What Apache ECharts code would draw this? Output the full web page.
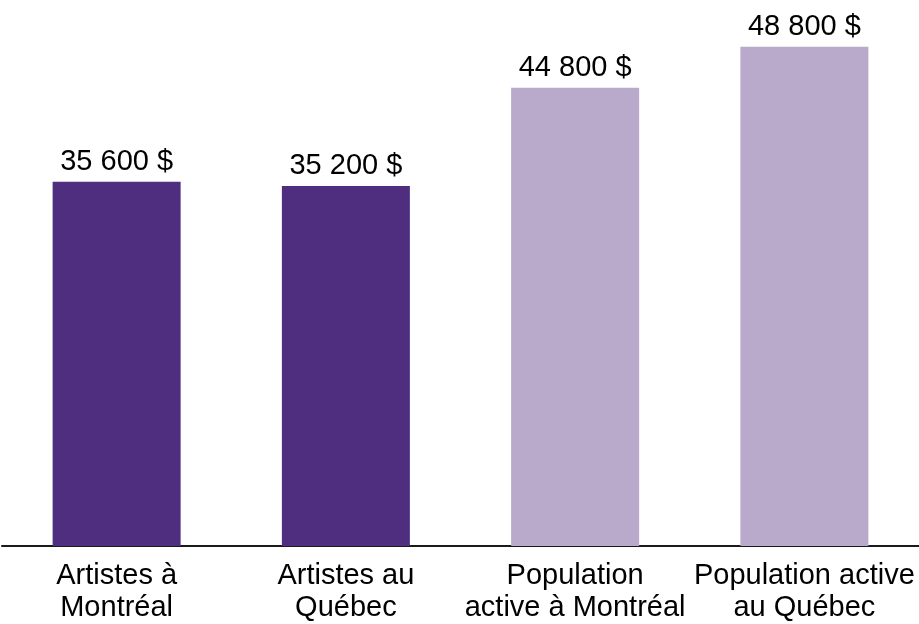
<!DOCTYPE html>
<html>
<head>
<meta charset="utf-8">
<script src="https://cdn.jsdelivr.net/npm/echarts@6/dist/echarts.min.js"></script>
<style>
html, body { margin: 0; padding: 0; background: #fff; }
#chart { width: 919px; height: 624px; }
</style>
</head>
<body>
<div id="chart"></div>
<script>
// catégories (axe x)
const categories = ['Artistes à\nMontréal', 'Artistes au\nQuébec', 'Population\nactive à Montréal', 'Population active\nau Québec'];
// revenu médian
const values = [35600, 35200, 44800, 48800];
// couleur de chaque barre
const barColors = ['#4f2d7f', '#4f2d7f', '#b9aacc', '#b9aacc'];

const chart = echarts.init(document.getElementById('chart'));

function fmt(v) {
	return String(v).replace(/\B(?=(\d{3})+(?!\d))/g, ' ') + ' $';
}

const option = {
	animation: false,
	textStyle: { fontFamily: 'Liberation Sans, Arial, sans-serif' },
	grid: {
		left: 2,
		right: 0,
		top: 14,
		bottom: 76,
		containLabel: false
	},
	xAxis: {
		type: 'category',
		data: categories,
		axisLine: { show: true, lineStyle: { color: '#1a1a1a', width: 2 } },
		axisTick: { show: false },
		axisLabel: {
			color: '#000',
			fontSize: 29,
			lineHeight: 32,
			margin: 14,
			interval: 0
		}
	},
	yAxis: {
		type: 'value',
		min: 0,
		max: 52000,
		show: false,
		splitLine: { show: false }
	},
	series: [
		{
			type: 'bar',
			barWidth: 128,
			data: values.map((v, i) => ({ value: v, itemStyle: { color: barColors[i] } })),
			label: {
				show: true,
				position: 'top',
				distance: 5,
				color: '#000',
				fontSize: 29,
				formatter: (p) => fmt(p.value)
			}
		}
	]
};
chart.setOption(option);
</script>
</body>
</html>
